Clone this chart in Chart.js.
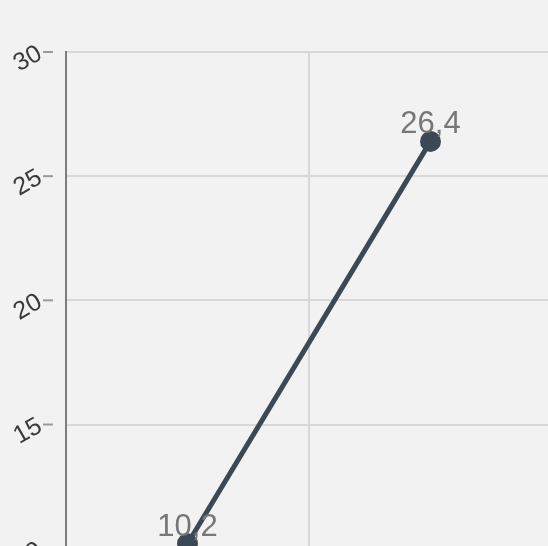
<!DOCTYPE html>
<html>
<head>
<meta charset="utf-8">
<script src="https://cdn.jsdelivr.net/npm/chart.js@4"></script>
<style>
    html, body {
        margin: 0;
        padding: 0;
        background: #f2f2f2;
        overflow: hidden;
        width: 548px;
        height: 546px;
    }
    .chart-container {
        position: absolute;
        left: 0;
        top: 0;
        width: 565px;
        height: 838px;
    }
</style>
</head>
<body>
<div class="chart-container">
    <canvas id="lineChart"></canvas>
</div>
<script>
// chart data
const categories = ['A', 'B'];
const values = [10.2, 26.4];
const yTicks = [0, 5, 10, 15, 20, 25, 30];

// draws the value above each point, with a comma as decimal mark
const pointLabels = {
    id: 'pointLabels',
    afterDatasetsDraw(chart) {
        const ctx = chart.ctx;
        const meta = chart.getDatasetMeta(0);
        ctx.save();
        ctx.font = '31px Arial, "Liberation Sans", sans-serif';
        ctx.fillStyle = '#777777';
        ctx.textAlign = 'center';
        ctx.textBaseline = 'alphabetic';
        meta.data.forEach((pt, i) => {
            const text = values[i].toFixed(1).replace('.', ',');
            ctx.fillText(text, pt.x, pt.y - 8);
        });
        ctx.restore();
    }
};

// short detached tick marks just right of each y label
const yTickMarks = {
    id: 'yTickMarks',
    afterDraw(chart) {
        const ctx = chart.ctx;
        const y = chart.scales.y;
        ctx.save();
        ctx.strokeStyle = '#9a9a9a';
        ctx.lineWidth = 2;
        y.ticks.forEach(t => {
            const py = y.getPixelForValue(t.value);
            ctx.beginPath();
            ctx.moveTo(y.right - 23, py);
            ctx.lineTo(y.right - 13, py);
            ctx.stroke();
        });
        ctx.restore();
    }
};

const ctx = document.getElementById('lineChart').getContext('2d');
new Chart(ctx, {
    type: 'line',
    data: {
        labels: categories,
        datasets: [{
            data: values,
            borderColor: '#3b4855',
            backgroundColor: '#3b4855',
            borderWidth: 5,
            pointRadius: 8,
            pointHoverRadius: 8,
            fill: false,
            tension: 0
        }]
    },
    options: {
        responsive: true,
        maintainAspectRatio: false,
        animation: false,
        layout: {
            padding: { top: 52, right: 8, left: 0, bottom: 0 }
        },
        plugins: {
            legend: { display: false },
            tooltip: { enabled: false }
        },
        scales: {
            x: {
                offset: true,
                grid: {
                    offset: true,
                    color: '#d8d8d8',
                    lineWidth: 2
                },
                border: { display: false },
                ticks: {
                    color: '#444',
                    font: { size: 20, family: 'Arial, "Liberation Sans", sans-serif' }
                }
            },
            y: {
                min: 0,
                max: 30,
                afterBuildTicks: (scale) => {
                    scale.ticks = yTicks.map(v => ({ value: v }));
                },
                afterFit: (scale) => {
                    scale.width = 66;
                },
                grid: {
                    color: '#d8d8d8',
                    lineWidth: 2,
                    drawTicks: false
                },
                border: {
                    display: true,
                    color: '#7d7d7d',
                    width: 2
                },
                ticks: {
                    color: '#3a3a3a',
                    minRotation: 30,
                    maxRotation: 30,
                    padding: 26,
                    font: { size: 25, family: 'Arial, "Liberation Sans", sans-serif' }
                }
            }
        }
    },
    plugins: [pointLabels, yTickMarks]
});
</script>
</body>
</html>
